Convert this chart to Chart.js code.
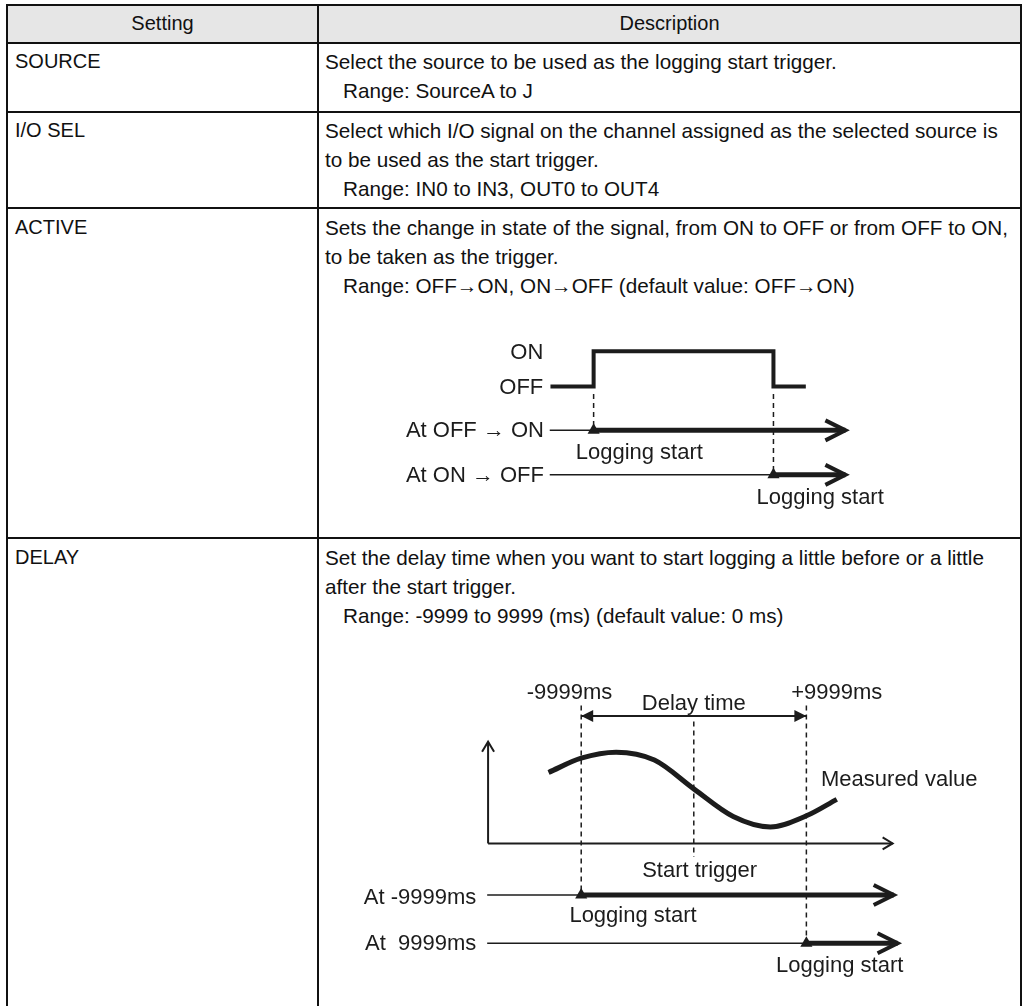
<!DOCTYPE html>
<html>
<head>
<meta charset="utf-8">
<title>Logging start trigger settings</title>
<script src="https://cdn.jsdelivr.net/npm/chart.js@4.4.1/dist/chart.umd.min.js"></script>
<style>
    body {
        margin: 0;
        width: 1028px;
        height: 1006px;
        overflow: hidden;
        position: relative;
        background: #fff;
        font-family: "Liberation Sans", Arial, sans-serif;
        font-size: 20px;
        color: #111;
    }
    .line { position: absolute; background: #111; }
    .head { position: absolute; top: 6px; height: 36px; line-height: 34px; text-align: center; }
    .cell { position: absolute; line-height: 29px; white-space: nowrap; }
    .desc { font-size: 20.7px; }
    .range { padding-left: 18px; }
    canvas { position: absolute; }
</style>
</head>
<body>

<div style="position:absolute;left:8px;top:6px;width:1012px;height:36px;background:#e6e6e6"></div>

<!-- table rules -->
<div class="line" style="left:6px;top:4px;width:1016px;height:2px"></div>
<div class="line" style="left:6px;top:4px;width:2px;height:1002px"></div>
<div class="line" style="left:1020px;top:4px;width:2px;height:1002px"></div>
<div class="line" style="left:317px;top:4px;width:2px;height:1002px"></div>
<div class="line" style="left:6px;top:42px;width:1016px;height:2px"></div>
<div class="line" style="left:6px;top:111px;width:1016px;height:2px"></div>
<div class="line" style="left:6px;top:207px;width:1016px;height:2px"></div>
<div class="line" style="left:6px;top:537px;width:1016px;height:2px"></div>

<div class="head" style="left:8px;width:309px">Setting</div>
<div class="head" style="left:319px;width:701px">Description</div>

<div class="cell" style="left:15px;top:47px">SOURCE</div>
<div class="cell desc" style="left:325px;top:47px">
    Select the source to be used as the logging start trigger.<br>
    <span class="range">Range: SourceA to J</span>
</div>

<div class="cell" style="left:15px;top:116px">I/O SEL</div>
<div class="cell desc" style="left:325px;top:116px">
    Select which I/O signal on the channel assigned as the selected source is<br>
    to be used as the start trigger.<br>
    <span class="range">Range: IN0 to IN3, OUT0 to OUT4</span>
</div>

<div class="cell" style="left:15px;top:213px">ACTIVE</div>
<div class="cell desc" style="left:325px;top:213px">
    Sets the change in state of the signal, from ON to OFF or from OFF to ON,<br>
    to be taken as the trigger.<br>
    <span class="range">Range: OFF→ON, ON→OFF (default value: OFF→ON)</span>
</div>

<div class="cell" style="left:15px;top:543px">DELAY</div>
<div class="cell desc" style="left:325px;top:543px">
    Set the delay time when you want to start logging a little before or a little<br>
    after the start trigger.<br>
    <span class="range">Range: -9999 to 9999 (ms) (default value: 0 ms)</span>
</div>

<canvas id="active" width="500" height="200" style="left:400px;top:320px"></canvas>
<canvas id="delay" width="680" height="340" style="left:340px;top:660px"></canvas>

<script>
// ACTIVE: signal timing (time units, OFF = 0 / ON = 1)
const signalTime = [0.8, 2, 2, 7, 7, 7.9];
const signalLevel = [0, 0, 1, 1, 0, 0];
const edgeTimes = [2, 7];
const activeRows = [-1.24, -2.5];
const activeLineStart = 0.78;
const activeArrowEnd = 9.0;
const activeDashTop = -0.21;

const activeTexts = ['ON', 'OFF', 'At OFF \u2192 ON', 'At ON \u2192 OFF', 'Logging start', 'Logging start'];
const activeTextX = [0.6, 0.6, 0.62, 0.62, 3.27, 8.3];
const activeTextY = [0.97, 0, -1.24, -2.5, -1.84, -3.13];
const activeTextAlign = ['right', 'right', 'right', 'right', 'center', 'center'];

// DELAY: time in ms around the start trigger, measured value in arbitrary units
const sampleMs = [-12900, -9999, -6900, -3500, 0, 3500, 6800, 9999, 12700];
const measuredValue = [1.90, 2.28, 2.44, 2.23, 1.46, 0.72, 0.44, 0.74, 1.18];
const delayLimits = [-9999, 9999];
const triggerMs = 0;
const axisOriginMs = -18270;
const axisEndMs = 17660;
const axisTop = 2.72;
const delayRows = [-1.38, -2.67];
const delayLineStart = -18350;
const delayArrowEnds = [17750, 18100];
const delayArrowLevel = 3.41;
const delayDashTop = 3.69;
const triggerDash = [3.26, -0.36];

const delayTexts = ['-9999ms', '+9999ms', 'Delay time', 'Measured value', 'Start trigger',
    'At -9999ms', 'At  9999ms', 'Logging start', 'Logging start'];
const delayTextX = [-11040, 12700, 0, 11300, 520, -19320, -19320, -5400, 12960];
const delayTextY = [4.05, 4.05, 3.77, 1.72, -0.72, -1.42, -2.67, -1.92, -3.26];
const delayTextAlign = ['center', 'center', 'center', 'left', 'center', 'right', 'right', 'center', 'center'];

const ink = '#1c1c1c';

Chart.defaults.font.family = '"Liberation Sans", Arial, sans-serif';

function pts(xs, ys) {
    let out = [];
    for (let i = 0; i < xs.length; i++) {
        out.push({ x: xs[i], y: ys[i] });
    }
    return out;
}

function seg(x0, y0, x1, y1, extra) {
    return Object.assign({
        data: [{ x: x0, y: y0 }, { x: x1, y: y1 }],
        borderColor: ink,
        borderWidth: 1.5,
        pointRadius: 0,
        fill: false,
        tension: 0
    }, extra || {});
}

function loggingArrow(x0, x1, y) {
    return seg(x0, y, x1, y, {
        borderWidth: 5,
        pointRadius: [7, 0],
        pointStyle: 'triangle',
        pointBackgroundColor: ink,
        pointBorderWidth: 0,
        head: { end: true, kind: 'open', len: 20, spread: 10, width: 4 }
    });
}

// draws arrow heads at the ends of datasets that ask for one
const arrowHeads = {
    id: 'arrowHeads',
    afterDatasetsDraw(chart) {
        const ctx = chart.ctx;
        chart.data.datasets.forEach((ds, i) => {
            if (!ds.head) return;
            const p = chart.getDatasetMeta(i).data;
            const h = ds.head;
            const draw = (tip, from) => {
                const a = Math.atan2(tip.y - from.y, tip.x - from.x);
                const bx = tip.x - Math.cos(a) * h.len;
                const by = tip.y - Math.sin(a) * h.len;
                const nx = -Math.sin(a) * h.spread;
                const ny = Math.cos(a) * h.spread;
                ctx.save();
                ctx.beginPath();
                ctx.moveTo(bx + nx, by + ny);
                ctx.lineTo(tip.x, tip.y);
                ctx.lineTo(bx - nx, by - ny);
                if (h.kind === 'filled') {
                    ctx.closePath();
                    ctx.fillStyle = ink;
                    ctx.fill();
                } else {
                    ctx.strokeStyle = ink;
                    ctx.lineWidth = h.width;
                    ctx.lineJoin = 'miter';
                    ctx.stroke();
                }
                ctx.restore();
            };
            if (h.end) draw(p[p.length - 1], p[p.length - 2]);
            if (h.start) draw(p[0], p[1]);
        });
    }
};

// text placed at data positions
const textMarks = {
    id: 'textMarks',
    afterDraw(chart, args, opts) {
        const ctx = chart.ctx;
        const xs = chart.scales.x, ys = chart.scales.y;
        ctx.save();
        ctx.fillStyle = ink;
        ctx.font = opts.size + 'px "Liberation Sans", Arial, sans-serif';
        ctx.textBaseline = 'middle';
        for (let i = 0; i < opts.texts.length; i++) {
            ctx.textAlign = opts.align[i];
            ctx.fillText(opts.texts[i], xs.getPixelForValue(opts.x[i]), ys.getPixelForValue(opts.y[i]) + 1);
        }
        ctx.restore();
    }
};

function baseOptions(xmin, xmax, ymin, ymax, labels) {
    return {
        responsive: false,
        animation: false,
        events: [],
        layout: { padding: 0 },
        plugins: {
            legend: { display: false },
            tooltip: { enabled: false },
            textMarks: labels
        },
        scales: {
            x: { type: 'linear', display: false, min: xmin, max: xmax },
            y: { type: 'linear', display: false, min: ymin, max: ymax }
        }
    };
}

function buildActive() {
    let sets = [];
    sets.push(seg(0, 0, 0, 0, { data: pts(signalTime, signalLevel), borderWidth: 4, borderJoinStyle: 'miter' }));
    for (let i = 0; i < edgeTimes.length; i++) {
        sets.push(seg(edgeTimes[i], activeDashTop, edgeTimes[i], activeRows[i], { borderDash: [5, 4] }));
        sets.push(seg(activeLineStart, activeRows[i], edgeTimes[i], activeRows[i]));
        sets.push(loggingArrow(edgeTimes[i], activeArrowEnd, activeRows[i]));
    }
    new Chart(document.getElementById('active').getContext('2d'), {
        type: 'line',
        data: { datasets: sets },
        options: baseOptions(-3.189, 10.324, -3.579, 1.684, {
            texts: activeTexts, x: activeTextX, y: activeTextY, align: activeTextAlign, size: 22
        }),
        plugins: [arrowHeads, textMarks]
    });
}

function buildDelay() {
    let sets = [];
    sets.push(seg(axisOriginMs, 0, axisOriginMs, axisTop, {
        borderWidth: 2, head: { end: true, kind: 'open', len: 10, spread: 6, width: 2 }
    }));
    sets.push(seg(axisOriginMs, 0, axisEndMs, 0, {
        borderWidth: 2, head: { end: true, kind: 'open', len: 10, spread: 6, width: 2 }
    }));
    sets.push(seg(0, 0, 0, 0, {
        data: pts(sampleMs, measuredValue), borderWidth: 5, cubicInterpolationMode: 'monotone'
    }));
    sets.push(seg(delayLimits[0], delayDashTop, delayLimits[0], delayRows[0], { borderDash: [5, 4] }));
    sets.push(seg(delayLimits[1], delayDashTop, delayLimits[1], delayRows[1], { borderDash: [5, 4] }));
    sets.push(seg(triggerMs, triggerDash[0], triggerMs, triggerDash[1], { borderDash: [5, 4] }));
    sets.push(seg(delayLimits[0], delayArrowLevel, delayLimits[1], delayArrowLevel, {
        borderWidth: 2, head: { start: true, end: true, kind: 'filled', len: 12, spread: 6 }
    }));
    for (let i = 0; i < delayRows.length; i++) {
        sets.push(seg(delayLineStart, delayRows[i], delayLimits[i], delayRows[i]));
        sets.push(loggingArrow(delayLimits[i], delayArrowEnds[i], delayRows[i]));
    }
    new Chart(document.getElementById('delay').getContext('2d'), {
        type: 'line',
        data: { datasets: sets },
        options: baseOptions(-30800, 28350, -4, 4.72, {
            texts: delayTexts, x: delayTextX, y: delayTextY, align: delayTextAlign, size: 22
        }),
        plugins: [arrowHeads, textMarks]
    });
}

buildActive();
buildDelay();
</script>
</body>
</html>
